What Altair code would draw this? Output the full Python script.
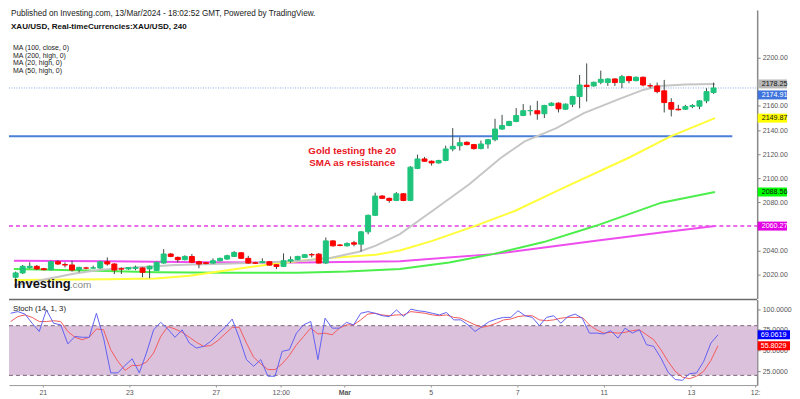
import altair as alt
import pandas as pd

# ---------------- data ----------------
bar_index = list(range(100))
opens = [2017.8, 2021.4, 2025.8, 2026.9, 2024.9, 2024.1, 2030.7, 2028.3, 2028.0, 2024.1,
         2025.5, 2025.4, 2025.5, 2030.7, 2028.8, 2024.8, 2024.7, 2025.2, 2025.5, 2024.7,
         2023.5, 2029.6, 2037.1, 2034.3, 2032.4, 2035.0, 2030.7, 2029.8, 2029.6, 2031.5,
         2032.9, 2035.1, 2038.1, 2033.5, 2029.8, 2030.0, 2030.7, 2028.2, 2026.8, 2031.2,
         2032.4, 2034.3, 2036.6, 2037.0, 2029.6, 2048.0, 2044.6, 2043.9, 2046.4, 2045.3,
         2055.5, 2069.2, 2085.2, 2083.3, 2081.6, 2087.1, 2081.6, 2108.1, 2116.0, 2114.1,
         2112.7, 2114.7, 2124.3, 2127.0, 2129.8, 2127.9, 2124.6, 2128.4, 2132.0, 2140.8,
         2143.8, 2147.1, 2152.1, 2156.0, 2156.0, 2153.5, 2160.4, 2162.3, 2157.3, 2161.5,
         2167.8, 2177.2, 2176.6, 2179.6, 2179.4, 2182.4, 2179.4, 2184.3, 2181.0, 2183.8,
         2176.8, 2176.6, 2172.5, 2162.8, 2157.3, 2157.3, 2159.5, 2159.8, 2164.2, 2171.1]
highs = [2022.5, 2028.0, 2030.2, 2028.0, 2025.6, 2031.5, 2032.1, 2030.2, 2031.5, 2026.5,
         2026.5, 2027.4, 2031.5, 2034.3, 2029.5, 2026.0, 2026.3, 2027.4, 2026.3, 2027.5,
         2030.8, 2041.2, 2038.0, 2035.0, 2036.0, 2037.1, 2031.5, 2030.5, 2033.5, 2034.0,
         2036.5, 2039.5, 2038.8, 2035.6, 2030.5, 2033.5, 2031.3, 2028.8, 2037.6, 2035.1,
         2035.6, 2037.0, 2037.9, 2037.9, 2050.8, 2048.6, 2045.3, 2046.8, 2048.0, 2056.2,
         2069.8, 2088.0, 2086.0, 2084.0, 2088.5, 2087.8, 2110.0, 2119.6, 2117.7, 2114.8,
         2115.3, 2127.0, 2141.6, 2133.9, 2130.6, 2128.5, 2131.2, 2132.6, 2149.3, 2152.6,
         2147.7, 2158.2, 2161.5, 2160.4, 2164.2, 2160.9, 2163.0, 2163.0, 2162.0, 2168.4,
         2185.7, 2195.3, 2180.2, 2189.3, 2183.0, 2183.0, 2185.7, 2185.0, 2184.4, 2184.4,
         2178.8, 2179.4, 2181.6, 2166.4, 2160.9, 2160.9, 2161.5, 2164.7, 2174.7, 2179.4]
lows = [2016.5, 2020.5, 2025.0, 2023.8, 2023.6, 2023.5, 2028.0, 2026.0, 2022.5, 2021.9,
        2024.5, 2024.8, 2024.9, 2027.4, 2020.5, 2020.5, 2023.9, 2023.6, 2017.8, 2017.0,
        2023.0, 2029.0, 2034.5, 2030.2, 2031.8, 2029.5, 2025.3, 2028.5, 2029.0, 2031.0,
        2032.4, 2034.6, 2033.0, 2029.0, 2029.0, 2029.5, 2027.5, 2024.6, 2026.3, 2029.6,
        2032.0, 2033.8, 2034.3, 2029.3, 2029.0, 2043.3, 2043.5, 2043.4, 2043.4, 2039.0,
        2053.5, 2068.8, 2082.8, 2079.7, 2081.0, 2081.0, 2081.0, 2107.5, 2113.5, 2110.5,
        2112.1, 2114.1, 2122.4, 2122.9, 2127.3, 2123.7, 2124.0, 2124.6, 2130.6, 2140.2,
        2143.2, 2146.5, 2151.5, 2152.1, 2148.5, 2150.0, 2159.8, 2154.6, 2156.7, 2159.0,
        2158.1, 2163.6, 2176.0, 2178.0, 2176.6, 2176.6, 2174.7, 2178.8, 2180.4, 2176.3,
        2174.7, 2170.5, 2154.6, 2151.3, 2156.2, 2156.6, 2158.2, 2157.3, 2162.3, 2170.0]
closes = [2021.4, 2026.9, 2026.9, 2024.7, 2024.1, 2030.7, 2028.8, 2028.0, 2023.8, 2026.0,
          2025.4, 2025.6, 2030.7, 2028.8, 2023.8, 2024.6, 2025.8, 2026.0, 2021.9, 2026.9,
          2030.2, 2037.1, 2035.1, 2032.4, 2035.1, 2030.3, 2028.8, 2029.3, 2031.5, 2033.5,
          2035.7, 2038.4, 2033.5, 2029.6, 2029.5, 2030.8, 2027.9, 2026.8, 2031.5, 2032.4,
          2035.1, 2036.5, 2036.4, 2029.6, 2048.0, 2043.9, 2044.2, 2045.8, 2045.3, 2055.5,
          2069.2, 2085.2, 2083.3, 2081.6, 2087.1, 2081.6, 2109.2, 2116.0, 2114.1, 2112.7,
          2114.7, 2124.3, 2126.5, 2129.5, 2127.9, 2124.6, 2128.4, 2132.0, 2140.8, 2143.8,
          2147.1, 2152.1, 2156.0, 2156.2, 2153.5, 2160.4, 2162.3, 2157.6, 2161.5, 2167.8,
          2177.4, 2176.1, 2179.6, 2182.1, 2182.4, 2179.4, 2184.3, 2181.0, 2183.8, 2177.4,
          2176.6, 2171.9, 2162.8, 2157.3, 2156.8, 2159.5, 2160.3, 2164.2, 2171.9, 2174.91]

stoch_k = [95, 97, 94, 83, 73, 99, 83, 81, 58, 67, 66, 66, 95, 65, 23, 23, 32, 40, 23, 47,
           75, 84, 76, 66, 75, 59, 53, 55, 61, 70, 78, 88, 65, 39, 31, 39, 19, 19, 49, 51,
           71, 81, 85, 39, 89, 77, 77, 84, 81, 95, 97, 95, 92, 91, 99, 91, 100, 98, 97, 95,
           93, 96, 87, 87, 81, 73, 79, 85, 88, 90, 90, 98, 92, 90, 80, 90, 92, 83, 91, 94,
           89, 71, 71, 70, 74, 65, 77, 71, 75, 57, 55, 41, 24, 15, 14, 22, 23, 37, 59, 69.0619]
stoch_d = [85, 91, 93, 90, 85, 85, 86, 85, 73, 66, 63, 66, 76, 75, 51, 37, 26, 32, 32, 36,
           47, 67, 79, 76, 72, 66, 60, 55, 56, 62, 70, 78, 78, 59, 42, 34, 27, 27, 34, 44,
           57, 67, 77, 70, 71, 69, 77, 81, 81, 87, 94, 95, 93, 92, 93, 93, 97, 96, 95, 93,
           92, 93, 90, 89, 85, 81, 78, 80, 83, 87, 88, 91, 92, 92, 87, 86, 87, 89, 90, 90,
           90, 81, 75, 71, 72, 71, 72, 74, 75, 69, 63, 51, 37, 25, 18, 16, 19, 25, 38, 55.8029]

ma20_k = [-0.24, 5, 8.4, 12, 17, 22.6, 29.6, 35.1, 40.7, 44.8, 48.7, 51.1, 54.5, 59.1, 64.3,
          68.8, 72.2, 76.7, 80.6, 85.3, 89, 91.3, 95, 99.2]
ma20_v = [2011, 2017, 2021, 2024, 2026, 2028, 2029, 2030, 2031.5, 2034, 2039, 2044, 2053.6,
          2072.8, 2094.8, 2116.8, 2130.6, 2141.6, 2154, 2165, 2173.3, 2176.6, 2177.8, 2178.25]
ma50_k = [-0.24, 13, 19.9, 24.7, 31, 37.6, 44, 51.1, 54.5, 59.1, 65.2, 70.8, 77.7, 86.9, 92.9, 99.2]
ma50_v = [2015.6, 2016.2, 2016.8, 2019, 2024.5, 2029.6, 2033.5, 2036.5, 2040, 2048, 2060.4,
          2072.8, 2092, 2116.8, 2134.8, 2149.87]
ma100_k = [-0.24, 10, 20, 30, 40, 47, 54.5, 61.5, 67.7, 74.9, 82.3, 91.6, 99.2]
ma100_v = [2024.7, 2023.5, 2022, 2021.6, 2021.6, 2022.5, 2024.7, 2030, 2037, 2047, 2060.5,
           2079.7, 2088.56]
ma200_k = [-0.24, 13, 27, 40.7, 54.5, 67.7, 82.3, 91.6, 99.2]
ma200_v = [2031.5, 2031, 2030.3, 2030, 2031, 2037, 2048.1, 2055, 2060.27]

support_level = [2134.8]
ma200_level = [2060.27]
last_price = [2174.91]

price_tags = [2178.25, 2149.87, 2088.56, 2060.27]
price_tag_bg = ["#b7b7b7", "#ffff00", "#00ff00", "#e400e4"]
price_tag_fg = ["#111111", "#111111", "#111111", "#ffffff"]
stoch_tags = [69.0619, 55.8029]
stoch_tag_bg = ["#0000ff", "#ff0000"]

price_ticks = [2020, 2040, 2080, 2100, 2120, 2140, 2160, 2200]
stoch_ticks = [25, 50, 75, 100]
stoch_band = [20, 80]
x_tick_pos = [4.5, 16.6, 28.7, 37.8, 46.7, 58.8, 70.9, 83.0, 95.2, 104.2]
x_tick_lab = ["21", "23", "27", "12:00", "Mar", "5", "7", "11", "13", "12:"]

header_lines = ["Published on Investing.com, 13/Mar/2024 - 18:02:52 GMT, Powered by TradingView.",
                "XAU/USD, Real-timeCurrencies:XAU/USD, 240"]
ma_legend = ["MA (100, close, 0)", "MA (200, high, 0)", "MA (20, high, 0)", "MA (50, high, 0)"]
note_lines = ["Gold testing the 20", "SMA as resistance"]
logo = ["Investing", ".com"]
stoch_title = ["Stoch (14, 1, 3)"]

# ---------------- styling ----------------
FONT = "Liberation Sans"
GREEN = "#1ec47c"
RED = "#ff0000"
W = 752
H1 = 290
H2 = 86

xs = alt.Scale(domain=[-0.236, 104.48], nice=False, zero=False)
ys = alt.Scale(domain=[2000.17, 2239.64], nice=False, zero=False)
ss = alt.Scale(domain=[8.3, 111.6], nice=False, zero=False)

yax = alt.Axis(orient="right", values=price_ticks, format=".2f", labelFontSize=7, labelColor="#555",
               tickColor="#888", tickSize=3, labelPadding=2, domainColor="#888", domainWidth=1.5,
               grid=False, title=None, labelFont=FONT)
sax = alt.Axis(orient="right", values=stoch_ticks, format=".4f", labelFontSize=7, labelColor="#555",
               tickColor="#888", tickSize=3, labelPadding=2, domainColor="#888", domainWidth=1.5,
               grid=False, title=None, labelFont=FONT)

lab_expr = " : ".join(f"datum.value == {p} ? '{l}'" for p, l in zip(x_tick_pos, x_tick_lab)) + " : ''"
xax = alt.Axis(values=x_tick_pos, labelExpr=lab_expr, labelFontSize=7, labelColor="#555",
               labelFont=FONT, labelFlush=False, domainColor="#999", tickColor="#999", tickSize=2,
               labelPadding=1, grid=False, title=None,
               labelFontWeight={"condition": {"test": "datum.value == 46.7", "value": "bold"},
                                "value": "normal"})


def X(f, axis=None):
    return alt.X(f, scale=xs, axis=axis, title=None)


def Y(f):
    return alt.Y(f, scale=ys, axis=yax, title=None)


def S(f):
    return alt.Y(f, scale=ss, axis=sax, title=None)


candles = pd.DataFrame({"k": bar_index, "open": opens, "high": highs, "low": lows, "close": closes})
up = "datum.close >= datum.open"

# ---------------- top pane ----------------
hline_support = alt.Chart(pd.DataFrame({"p": support_level})).mark_rule(
    color="#4a7fd8", strokeWidth=2).encode(y=Y("p:Q"), x=alt.value(0), x2=alt.value(727))
hline_ma200 = alt.Chart(pd.DataFrame({"p": ma200_level})).mark_rule(
    color="#e23ee2", strokeWidth=1.5, strokeDash=[4, 3]).encode(y=Y("p:Q"), x=alt.value(0), x2=alt.value(W))
hline_last = alt.Chart(pd.DataFrame({"p": last_price})).mark_rule(
    color="#8ea6e6", strokeWidth=1, strokeDash=[1, 1.5]).encode(y=Y("p:Q"), x=alt.value(0), x2=alt.value(W))


def ma_line(ks, vs, color):
    return alt.Chart(pd.DataFrame({"k": ks, "p": vs})).mark_line(
        color=color, strokeWidth=2, clip=True).encode(x=X("k:Q"), y=Y("p:Q"))


l20 = ma_line(ma20_k, ma20_v, "#c6c6c6")
l50 = ma_line(ma50_k, ma50_v, "#ffff3a")
l100 = ma_line(ma100_k, ma100_v, "#4cee4c")
l200 = ma_line(ma200_k, ma200_v, "#ee4eee")

wicks = alt.Chart(candles).mark_rule(color="#3d4a42", strokeWidth=1, clip=True).encode(
    x=X("k:Q"), y=Y("low:Q"), y2="high:Q")
bodies = alt.Chart(candles).mark_bar(size=5, strokeWidth=1, clip=True).encode(
    x=X("k:Q"), y=Y("open:Q"), y2="close:Q",
    color=alt.condition(up, alt.value(GREEN), alt.value(RED)),
    stroke=alt.condition(up, alt.value(GREEN), alt.value(RED)))

hdr1 = alt.Chart(pd.DataFrame({"t": header_lines[:1]})).mark_text(
    align="left", baseline="middle", font=FONT, fontSize=8.2, color="#222").encode(
    text="t:N", x=alt.value(2), y=alt.value(4.3))
hdr2 = alt.Chart(pd.DataFrame({"t": header_lines[1:]})).mark_text(
    align="left", baseline="middle", font=FONT, fontSize=8.1, fontWeight="bold", color="#111").encode(
    text="t:N", x=alt.value(2), y=alt.value(17))
legend = alt.Chart(pd.DataFrame({"t": ["\n".join(ma_legend)]})).mark_text(
    align="left", baseline="middle", font=FONT, fontSize=7, lineHeight=7.8, lineBreak="\n",
    color="#222").encode(text="t:N", x=alt.value(4), y=alt.value(38))
note = alt.Chart(pd.DataFrame({"t": ["\n".join(note_lines)]})).mark_text(
    align="center", baseline="middle", font=FONT, fontSize=9.8, fontWeight="bold", lineHeight=11.7,
    lineBreak="\n", color="#e8161e").encode(text="t:N", x=alt.value(345), y=alt.value(142))
logo1 = alt.Chart(pd.DataFrame({"t": logo[:1]})).mark_text(
    align="left", baseline="alphabetic", font=FONT, fontSize=13, fontWeight="bold",
    color="#111").encode(text="t:N", x=alt.value(5), y=alt.value(279))
logo2 = alt.Chart(pd.DataFrame({"t": logo[1:]})).mark_text(
    align="left", baseline="alphabetic", font=FONT, fontSize=10, color="#888").encode(
    text="t:N", x=alt.value(61), y=alt.value(279))

tags = pd.DataFrame({"p": price_tags, "bg": price_tag_bg, "fg": price_tag_fg})
tag_box = alt.Chart(tags).mark_rect(yOffset=-4.5, y2Offset=4.5).encode(
    x=alt.value(752.5), x2=alt.value(782), y=Y("p:Q"), y2="p:Q", color=alt.Color("bg:N", scale=None))
tag_txt = alt.Chart(tags).mark_text(align="left", baseline="middle", font=FONT, fontSize=7.2).encode(
    x=alt.value(756.5), y=Y("p:Q"), text=alt.Text("p:Q", format=".2f"),
    color=alt.Color("fg:N", scale=None))
last_box = alt.Chart(pd.DataFrame({"p": last_price})).mark_rect(
    yOffset=2.5, y2Offset=11.5, color="#3f74dc").encode(
    x=alt.value(752.5), x2=alt.value(782), y=Y("p:Q"), y2="p:Q")
last_txt = alt.Chart(pd.DataFrame({"p": last_price})).mark_text(
    align="left", baseline="middle", font=FONT, fontSize=7.2, color="white", dy=7).encode(
    x=alt.value(756.5), y=Y("p:Q"), text=alt.Text("p:Q", format=".2f"))

top = alt.layer(hline_support, hline_ma200, hline_last, l200, l100, l50, l20, wicks, bodies,
                hdr1, hdr2, legend, note, logo1, logo2, tag_box, tag_txt, last_box, last_txt
                ).properties(width=W, height=H1)

# ---------------- stochastic pane ----------------
band_df = pd.DataFrame({"lo": [stoch_band[0]], "hi": [stoch_band[1]]})
band = alt.Chart(band_df).mark_rect(color="#dcc1dc").encode(
    y=S("hi:Q"), y2="lo:Q", x=alt.value(0), x2=alt.value(W))
band_lines = alt.Chart(pd.DataFrame({"v": stoch_band})).mark_rule(
    color="#7a667a", strokeWidth=1, strokeDash=[4, 3]).encode(
    y=S("v:Q"), x=alt.value(0), x2=alt.value(W))
stoch = pd.DataFrame({"k": bar_index, "K": stoch_k, "D": stoch_d})
line_d = alt.Chart(stoch).mark_line(color="#f25b5b", strokeWidth=1, clip=True).encode(
    x=X("k:Q", axis=xax), y=S("D:Q"))
line_k = alt.Chart(stoch).mark_line(color="#6161f2", strokeWidth=1, clip=True).encode(
    x=X("k:Q", axis=xax), y=S("K:Q"))
sep = alt.Chart(band_df).mark_rule(color="#6b6b6b", strokeWidth=1.5).encode(
    x=alt.value(0), x2=alt.value(W), y=alt.value(0))
st_title = alt.Chart(pd.DataFrame({"t": stoch_title})).mark_text(
    align="left", baseline="middle", font=FONT, fontSize=7.8, color="#222").encode(
    text="t:N", x=alt.value(4), y=alt.value(10))
stags = pd.DataFrame({"v": stoch_tags, "bg": stoch_tag_bg})
s_box = alt.Chart(stags).mark_rect(yOffset=-4.5, y2Offset=4.5).encode(
    x=alt.value(752.5), x2=alt.value(785), y=S("v:Q"), y2="v:Q", color=alt.Color("bg:N", scale=None))
s_txt = alt.Chart(stags).mark_text(align="left", baseline="middle", font=FONT, fontSize=7.2,
                                   color="white").encode(
    x=alt.value(755.5), y=S("v:Q"), text=alt.Text("v:Q", format=".4f"))

bottom = alt.layer(band, band_lines, line_d, line_k, sep, st_title, s_box, s_txt
                   ).properties(width=W, height=H2)

chart = alt.vconcat(top, bottom, spacing=0).properties(
    padding={"left": 0, "top": 0, "right": 0, "bottom": 0},
    background="white",
).configure_view(stroke=None)

chart.save("out.html", embed_options={"renderer": "svg", "actions": False})
